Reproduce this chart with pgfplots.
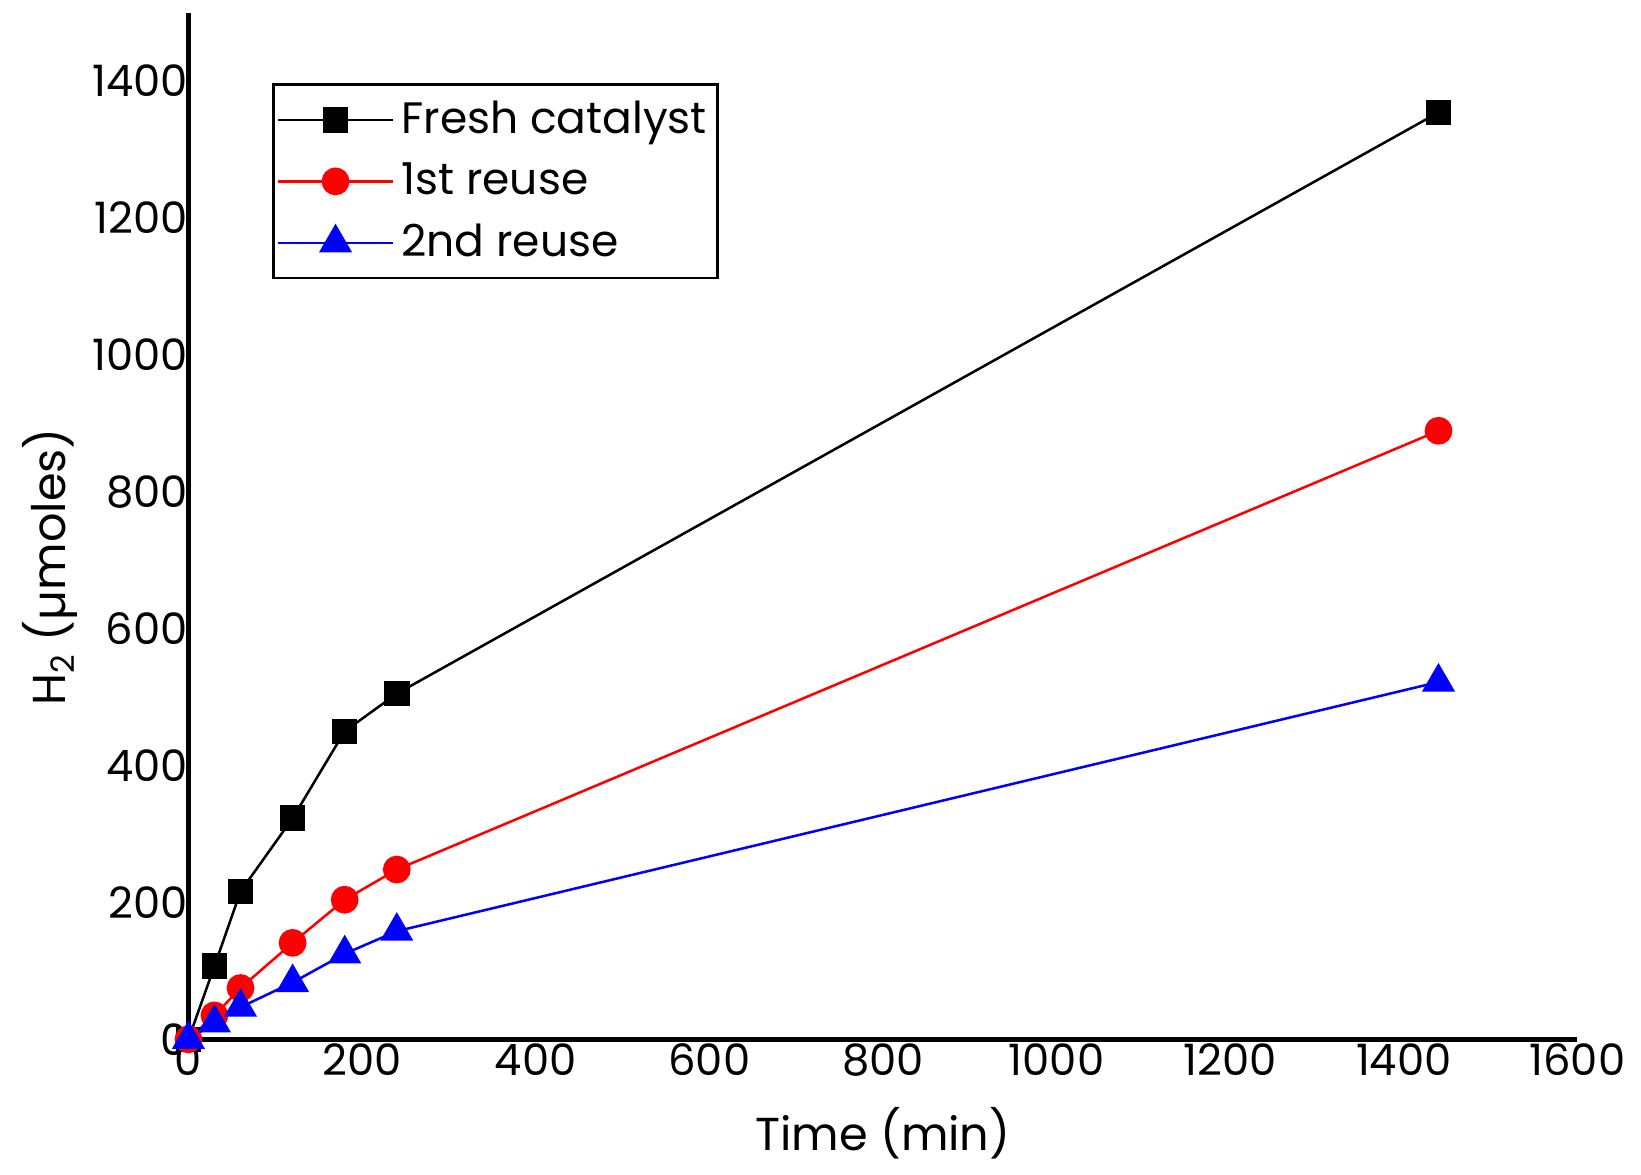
\documentclass[border=0pt]{standalone}
\usepackage{fontspec}
\setmainfont{Poppins}
\usepackage{pgfplots}
\pgfplotsset{compat=1.18}
\begin{document}
\begin{tikzpicture}
\begin{axis}[
    name=ax,
    scale only axis, width=13.54cm, height=10.01cm,
    xmin=0, xmax=1600, ymin=0, ymax=1500,
    axis x line=bottom, axis y line=left,
    axis line style={line width=1.4pt, -},
    xtick={0,200,...,1600}, ytick={0,200,...,1400},
    major tick length=0pt,
    /pgf/number format/assume math mode=true,
    /pgf/number format/set thousands separator={},
    tick label style={font=\fontsize{12}{14}\selectfont},
    yticklabel style={inner sep=0pt},
    xticklabel style={inner sep=0pt, yshift=-1pt},
    xlabel={Time (min)},
    ylabel={H\textsubscript{2} (µmoles)},
    label style={font=\fontsize{12.8}{15}\selectfont},
    xlabel style={at={(axis description cs:0.5,-0.0917)}, anchor=center},
    ylabel style={at={(axis description cs:-0.0995,0.46)}, anchor=center},
    legend style={at={(axis description cs:0.060,0.931)}, anchor=north west,
        draw=black, line width=0.8pt, font=\fontsize{12.2}{14}\selectfont,
        row sep=2.6pt, inner xsep=1pt, inner ysep=2.5pt},
    legend cell align=left,
    legend image code/.code={
        \draw[mark repeat=2, mark phase=2, line width=0.7pt]
            plot coordinates {(0cm,0cm) (0.56cm,0cm) (1.12cm,0cm)};},
    clip=false,
]
\addplot[black, line width=0.7pt, mark=square*, mark size=3.2pt, mark options={solid, fill=black}]
    coordinates {(0,0) (30,107) (60,216) (120,323) (180,450) (240,505) (1440,1354)};
\addlegendentry{Fresh catalyst}
\addplot[red, line width=0.7pt, mark=*, mark size=3.5pt, mark options={solid, fill=red}]
    coordinates {(0,0) (30,35) (60,75) (120,141) (180,204) (240,248) (1440,889)};
\addlegendentry{1st reuse}
\addplot[blue, line width=0.7pt, mark=triangle*, mark size=4.6pt, mark options={solid, fill=blue}]
    coordinates {(0,0) (30,24) (60,47) (120,83) (180,125) (240,158) (1440,522)};
\addlegendentry{2nd reuse}
\end{axis}
\path ([xshift=-1.837cm, yshift=-1.316cm]ax.south west)
    rectangle ([xshift=14.16cm, yshift=10.132cm]ax.south west);
\end{tikzpicture}
\end{document}
